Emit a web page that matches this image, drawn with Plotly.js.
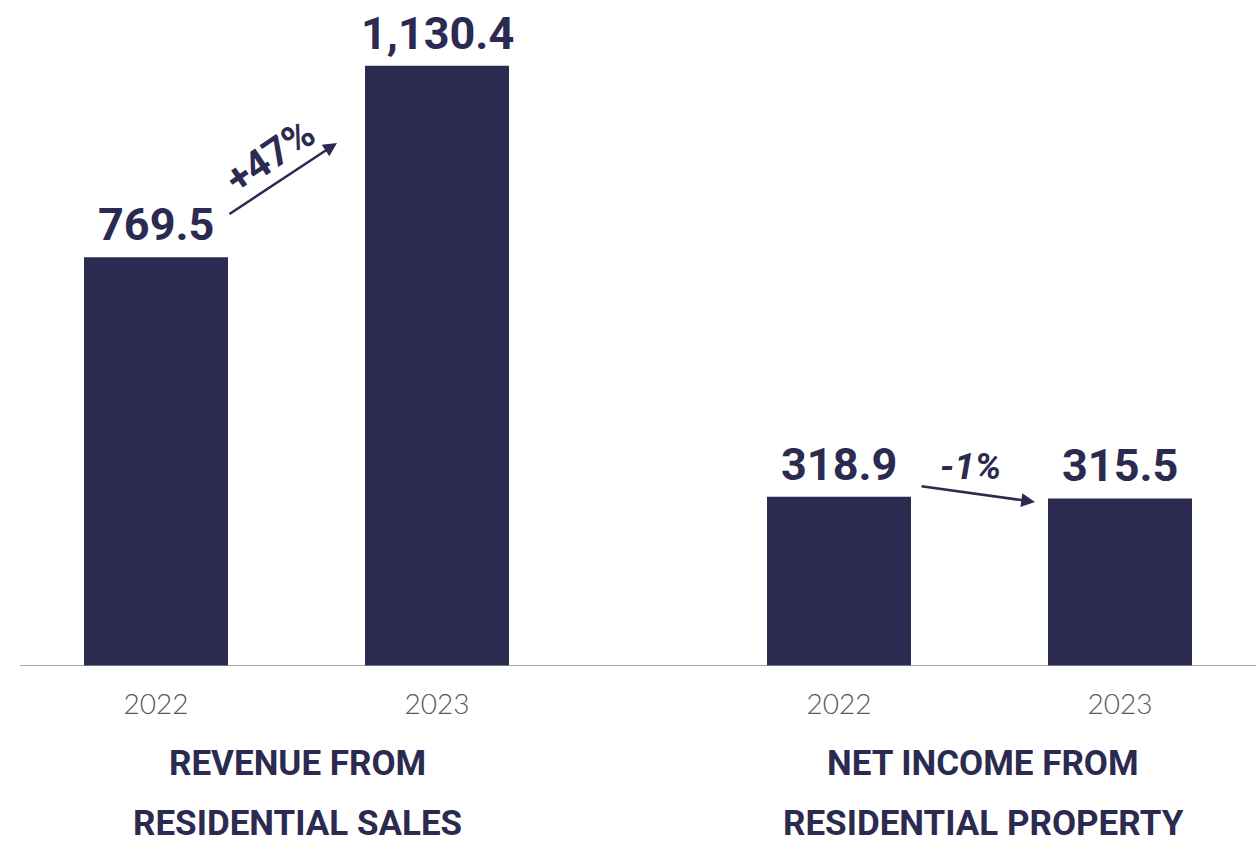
<!DOCTYPE html>
<html>
<head>
<meta charset="utf-8">
<script src="https://cdn.plot.ly/plotly-3.0.1.min.js"></script>
<style>html,body{margin:0;padding:0;background:#fff;}#chart{width:1256px;height:847px;}</style>
</head>
<body>
<div id="chart"></div>
<script>
// ---- data ----
const years = ["2022", "2023"];
const revenueResidentialSales = [769.5, 1130.4];
const netIncomeResidentialProperty = [318.9, 315.5];
const groupTitleLine1 = ["REVENUE FROM", "NET INCOME FROM"];
const groupTitleLine2 = ["RESIDENTIAL SALES", "RESIDENTIAL PROPERTY"];
const changeLabels = ["+47%", "-1%"];

// ---- style ----
const NAVY = "#2b2a50";
const W = 1256, H = 847;
const PH = 666; // plot-area height in px (paper coords refer to it)
const px = x => x / W;
const py = y => 1 - y / PH;
const fmt = v => v.toLocaleString("en-US", {minimumFractionDigits: 1, maximumFractionDigits: 1});

const traces = [
  {type: "bar", x: years, y: revenueResidentialSales, xaxis: "x", yaxis: "y",
   marker: {color: NAVY}, hoverinfo: "skip"},
  {type: "bar", x: years, y: netIncomeResidentialProperty, xaxis: "x2", yaxis: "y",
   marker: {color: NAVY}, hoverinfo: "skip"}
];

const annotations = [];
const valueFont = {family: "Roboto, 'DejaVu Sans', sans-serif", size: 45, weight: 700, color: NAVY};
[[revenueResidentialSales, "x"], [netIncomeResidentialProperty, "x2"]].forEach(([vals, ax]) => {
  vals.forEach((v, i) => {
    annotations.push({xref: ax, yref: "y", x: i, y: v, text: fmt(v),
      showarrow: false, xanchor: "center", yanchor: "bottom", yshift: 4, font: valueFont});
  });
});

// group titles
const titleFont = {family: "Roboto, 'DejaVu Sans', sans-serif", size: 35, weight: 700, color: NAVY};
const titleX = [297, 983];
for (let g = 0; g < 2; g++) {
  annotations.push({xref: "paper", yref: "paper", x: px(titleX[g]), y: py(764), text: groupTitleLine1[g],
    showarrow: false, xanchor: "center", yanchor: "middle", font: titleFont});
  annotations.push({xref: "paper", yref: "paper", x: px(titleX[g]), y: py(846), text: groupTitleLine2[g],
    showarrow: false, xanchor: "center", yanchor: "bottom", font: titleFont});
}

// change arrows
annotations.push({xref: "paper", yref: "paper", x: px(337), y: py(143), ax: -109, ay: 72,
  axref: "pixel", ayref: "pixel", text: "", showarrow: true, arrowhead: 2, arrowsize: 1.1,
  arrowwidth: 2.5, arrowcolor: NAVY, standoff: 0, startstandoff: 0});
annotations.push({xref: "paper", yref: "paper", x: px(270), y: py(157), text: changeLabels[0],
  showarrow: false, textangle: -34, xanchor: "center", yanchor: "middle",
  font: {family: "Roboto, 'DejaVu Sans', sans-serif", size: 40, weight: 700, color: NAVY}});
annotations.push({xref: "paper", yref: "paper", x: px(1035), y: py(502), ax: -115, ay: -16,
  axref: "pixel", ayref: "pixel", text: "", showarrow: true, arrowhead: 2, arrowsize: 1.1,
  arrowwidth: 2.5, arrowcolor: NAVY, standoff: 0, startstandoff: 0});
annotations.push({xref: "paper", yref: "paper", x: px(970), y: py(466), text: changeLabels[1],
  showarrow: false, xanchor: "center", yanchor: "middle",
  font: {family: "Roboto, 'DejaVu Sans', sans-serif", size: 37, weight: 700, style: "italic", color: NAVY}});

const tickFont = {family: "Lato, 'Open Sans', sans-serif", size: 28, weight: 300, color: "#595959"};
const xcommon = {type: "category", showgrid: false, zeroline: false, showline: false,
  ticks: "outside", ticklen: 13, tickcolor: "rgba(0,0,0,0)", tickfont: tickFont, fixedrange: true};

const layout = {
  width: W, height: H,
  margin: {l: 0, r: 0, t: 0, b: H - PH, pad: 0},
  paper_bgcolor: "#fff", plot_bgcolor: "#fff",
  showlegend: false,
  bargap: 1 - 144 / 281,
  xaxis: Object.assign({}, xcommon, {domain: [15.5 / W, 577.5 / W], range: [-0.5, 1.5], anchor: "y"}),
  xaxis2: Object.assign({}, xcommon, {domain: [698.5 / W, 1], range: [-0.5, 1.5 - 4.5 / 281], anchor: "y"}),
  yaxis: {range: [0, 1254], visible: false, showgrid: false, zeroline: false, fixedrange: true},
  shapes: [{type: "line", xref: "paper", yref: "y", x0: 20 / W, x1: 1, y0: 0, y1: 0,
    line: {color: "#8c8c8c", width: 1.5}}],
  annotations: annotations
};

Plotly.newPlot("chart", traces, layout, {staticPlot: true, displayModeBar: false});
</script>
</body>
</html>
